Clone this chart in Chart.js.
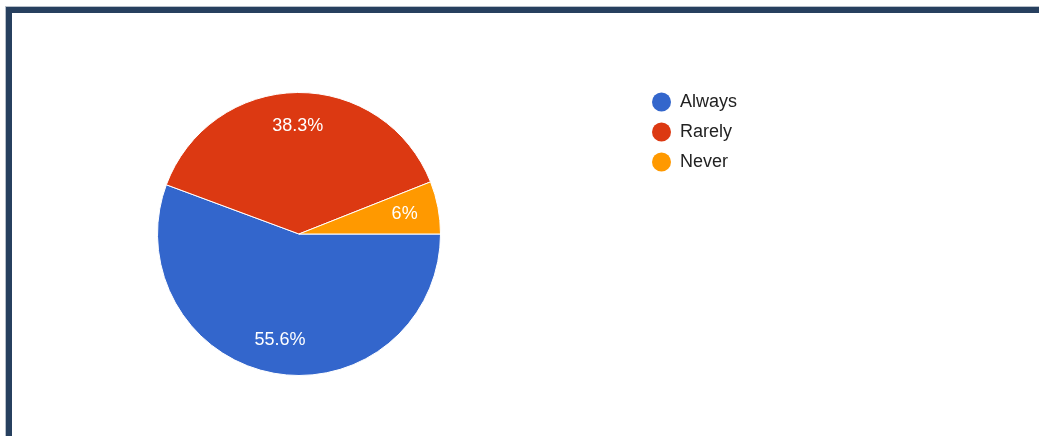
<!DOCTYPE html>
<html>
<head>
<meta charset="utf-8">
<script src="https://cdn.jsdelivr.net/npm/chart.js@4/dist/chart.umd.min.js"></script>
<style>
  html, body { margin: 0; padding: 0; background: #fff; overflow: hidden; }
  #frame {
    position: absolute; left: 6px; top: 7px; width: 1100px; height: 500px;
    border-left: 6px solid #27405f; border-top: 6px solid #27405f;
    box-shadow: -1px -1px 0 #b8c0ca;
  }
  #wrap { position: absolute; left: 0; top: 0; width: 1039px; height: 436px; }
</style>
</head>
<body>
<div id="frame"></div>
<div id="wrap"><canvas id="pieChart" width="1039" height="436"></canvas></div>
<script>
const answers = ["Always", "Rarely", "Never"];
const shares = [55.6, 38.3, 6];
const sliceColors = ["#3366cc", "#dc3912", "#ff9900"];

// percentage text inside each slice
const sliceLabels = {
    id: "sliceLabels",
    afterDatasetsDraw(chart) {
        const ctx = chart.ctx;
        const meta = chart.getDatasetMeta(0);
        ctx.save();
        ctx.font = "18px Arial, 'Liberation Sans', sans-serif";
        ctx.fillStyle = "#ffffff";
        ctx.textAlign = "center";
        ctx.textBaseline = "middle";
        meta.data.forEach((arc, i) => {
            const mid = (arc.startAngle + arc.endAngle) / 2;
            const d = arc.outerRadius * 0.76;
            ctx.fillText(shares[i] + "%", arc.x + Math.cos(mid) * d, arc.y + Math.sin(mid) * d);
        });
        ctx.restore();
    }
};

// legend on the right, dots + names
const sideLegend = {
    id: "sideLegend",
    afterDraw(chart) {
        const ctx = chart.ctx;
        ctx.save();
        ctx.font = "18px Arial, 'Liberation Sans', sans-serif";
        ctx.textBaseline = "middle";
        answers.forEach((name, i) => {
            const y = 102 + i * 30;
            ctx.beginPath();
            ctx.arc(661.5, y, 9.5, 0, Math.PI * 2);
            ctx.fillStyle = sliceColors[i];
            ctx.fill();
            ctx.fillStyle = "#222222";
            ctx.fillText(name, 680, y);
        });
        ctx.restore();
    }
};

new Chart(document.getElementById("pieChart").getContext("2d"), {
    type: "pie",
    data: {
        labels: answers,
        datasets: [{
            data: shares,
            backgroundColor: sliceColors,
            borderColor: "#ffffff",
            borderWidth: 1
        }]
    },
    options: {
        responsive: false,
        animation: false,
        rotation: 90,
        layout: { padding: { left: 157, right: 598, top: 92, bottom: 60 } },
        plugins: {
            legend: { display: false },
            tooltip: { enabled: false }
        },
        events: []
    },
    plugins: [sliceLabels, sideLegend]
});
</script>
</body>
</html>
